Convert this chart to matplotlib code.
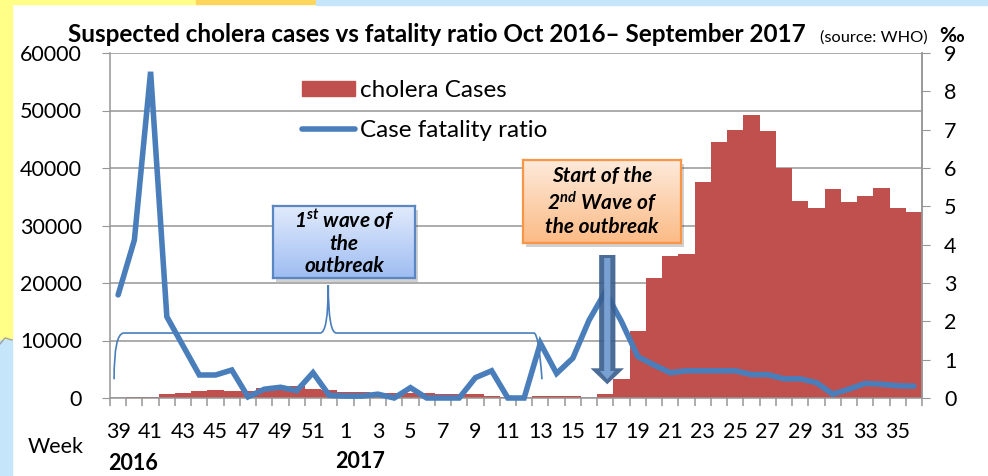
import numpy as np
import matplotlib
matplotlib.use("Agg")
import matplotlib.pyplot as plt
import matplotlib.patches as mpatches
from matplotlib.lines import Line2D
from matplotlib.path import Path
import matplotlib.transforms as mtransforms

# ---------------------------------------------------------------------------
# data
weeks_2016 = list(range(39, 53))
weeks_2017 = list(range(1, 37))
weeks = weeks_2016 + weeks_2017

cases = [50, 100, 200, 750, 930, 1160, 1390, 1160, 1300, 1680,
         1850, 2030, 1620, 1390, 1040, 990, 900, 930, 810, 800,
         700, 700, 700, 350, 100, 50, 350, 350, 350, 50,
         700, 3250, 11650, 20800, 24700, 25000, 37500, 44600, 46600, 49300,
         46400, 40000, 34300, 33000, 36300, 34100, 35200, 36600, 33100, 32300]

cfr = [2.69, 4.12, 8.51, 2.12, 1.36, 0.60, 0.60, 0.73, 0.03, 0.23,
       0.28, 0.19, 0.66, 0.07, 0.05, 0.05, 0.10, 0.00, 0.27, 0.00,
       0.00, 0.00, 0.53, 0.71, 0.00, 0.00, 1.43, 0.64, 1.04, 2.03,
       2.77, 1.99, 1.08, 0.86, 0.66, 0.71, 0.71, 0.71, 0.71, 0.61,
       0.61, 0.50, 0.50, 0.40, 0.10, 0.23, 0.38, 0.36, 0.32, 0.31]

left_ticks = [0, 10000, 20000, 30000, 40000, 50000, 60000]
right_ticks = list(range(0, 10))

bar_color = '#c0504d'
line_color = '#4a7ebb'
grid_color = '#969696'

plt.rcParams['font.family'] = ['Lato', 'DejaVu Sans']
plt.rcParams['mathtext.fontset'] = 'custom'
plt.rcParams['mathtext.rm'] = 'Lato:italic:bold'
plt.rcParams['mathtext.it'] = 'Lato:italic:bold'

W, H = 988, 476
fig = plt.figure(figsize=(W / 100, H / 100), dpi=100)


def px(x, y, w, h):
    """pixel box (top-left origin) -> figure fraction rect"""
    return [x / W, 1 - (y + h) / H, w / W, h / H]


# background frame of the slide --------------------------------------------
bg = fig.add_axes([0, 0, 1, 1], zorder=-10)
bg.set_xlim(0, W)
bg.set_ylim(H, 0)
bg.axis('off')
bg.add_patch(mpatches.Rectangle((0, 0), W, H, color='white'))
bg.add_patch(mpatches.Rectangle((0, 0), 12, 340, color='#ffff88'))
bg.add_patch(mpatches.Rectangle((0, 340), 12, H - 340, color='#c5e6fa'))
bg.plot([0, 5, 12], [344, 338, 340], color='#a0a0a0', lw=1)
bg.add_patch(mpatches.Rectangle((0, 0), 196, 4, color='#ffff88'))
bg.add_patch(mpatches.Rectangle((196, 0), 120, 4, color='#ffd55a'))
bg.add_patch(mpatches.Rectangle((316, 0), W - 316, 5, color='#c5e6fa'))

# main axes ------------------------------------------------------------------
ax = fig.add_axes([110 / W, 1 - 398 / H, 812 / W, 345 / H])
x = np.arange(len(weeks))
ax.bar(x, cases, width=1.0, color=bar_color, zorder=2)
ax.set_xlim(-0.5, len(weeks) - 0.5)
ax.set_ylim(0, 60000)
ax.set_yticks(left_ticks)
ax.set_yticklabels([str(v) for v in left_ticks])
ax.yaxis.grid(True, color=grid_color, lw=1.1, zorder=0)
ax.set_axisbelow(True)
ax.spines['top'].set_visible(False)
for s in ['left', 'right', 'bottom']:
    ax.spines[s].set_color(grid_color)
    ax.spines[s].set_linewidth(1.1)
ax.tick_params(axis='y', length=6, color=grid_color, labelsize=15.5, pad=14)

# week ticks at category boundaries, labels every other week
ax.set_xticks(np.arange(-0.5, len(weeks), 1.0))
ax.set_xticklabels([])
ax.tick_params(axis='x', which='major', length=6, color=grid_color, width=1.1)
ax.set_xticks(x[::2], minor=True)
ax.set_xticklabels([str(w) for w in weeks[::2]], minor=True)
ax.tick_params(axis='x', which='minor', length=0, labelsize=15.5, pad=17)

ax2 = ax.twinx()
ax2.plot(x, cfr, color=line_color, lw=4, solid_joinstyle='miter',
         solid_capstyle='round', clip_on=False, zorder=3)
ax2.set_ylim(0, 9)
ax2.set_yticks(right_ticks)
ax2.tick_params(axis='y', length=6, color=grid_color, labelsize=15.5, pad=10)
for s in ['top', 'left', 'bottom']:
    ax2.spines[s].set_visible(False)
ax2.spines['right'].set_color(grid_color)
ax2.spines['right'].set_linewidth(1.1)

# brace under the 1st wave --------------------------------------------------
x0, x1, xm = -0.25, 26.1, 12.94
y_base, y_line, y_tip = 3250, 11300, 19650
verts = [(x0, y_base), (x0, y_line), (x0 + 0.6, y_line),
         (xm - 0.5, y_line), (xm, y_line), (xm, y_tip),
         (xm, y_line), (xm + 0.5, y_line),
         (x1 - 0.5, y_line), (x1 - 0.2, y_line), (x1, y_base)]
codes = [Path.MOVETO, Path.CURVE3, Path.CURVE3,
         Path.LINETO, Path.CURVE3, Path.CURVE3,
         Path.CURVE3, Path.CURVE3,
         Path.LINETO, Path.CURVE3, Path.CURVE3]
brace = mpatches.PathPatch(Path(verts, codes), facecolor='none',
                           edgecolor=line_color, lw=1.2,
                           transform=ax.transData, zorder=4, clip_on=False)
ax2.add_patch(brace)

# down arrow at week 17 -----------------------------------------------------
ax_x = 30.12
arrow_outer = [(ax_x - 0.5, 24870), (ax_x + 0.5, 24870), (ax_x + 0.5, 5165),
               (ax_x + 1.03, 5165), (ax_x, 2380), (ax_x - 1.03, 5165),
               (ax_x - 0.5, 5165)]
arrow_inner = [(ax_x - 0.19, 24350), (ax_x + 0.19, 24350), (ax_x + 0.19, 4700),
               (ax_x + 0.45, 4700), (ax_x, 3250), (ax_x - 0.45, 4700),
               (ax_x - 0.19, 4700)]
ax2.add_patch(mpatches.Polygon(arrow_outer, closed=True, facecolor='#3a5f8e',
                               edgecolor='none', alpha=0.92,
                               transform=ax.transData, zorder=5))
ax2.add_patch(mpatches.Polygon(arrow_inner, closed=True, facecolor='#7ea5d8',
                               edgecolor='none', alpha=0.92,
                               transform=ax.transData, zorder=6))

# legend --------------------------------------------------------------------
handles = [mpatches.Patch(color=bar_color, label='cholera Cases'),
           Line2D([], [], color=line_color, lw=4, solid_capstyle='round',
                  label='Case fatality ratio')]
fig.legend(handles=handles, loc='upper left', bbox_to_anchor=(302 / W, 1 - 80 / H),
           frameon=False, fontsize=17.5, handlelength=2.2, handleheight=0.6,
           handletextpad=0.2, labelspacing=0.8, borderpad=0, borderaxespad=0)


# gradient call-out boxes ---------------------------------------------------
def callout(rect, top, bottom, edge, text, fontsize):
    sh = fig.add_axes(px(rect[0] + 3, rect[1] + 4, rect[2], rect[3]), zorder=8)
    sh.set_facecolor('#000000')
    sh.patch.set_alpha(0.18)
    sh.set_xticks([])
    sh.set_yticks([])
    for s in sh.spines.values():
        s.set_visible(False)
    b = fig.add_axes(px(*rect), zorder=9)
    t = np.array(matplotlib.colors.to_rgb(top))
    btm = np.array(matplotlib.colors.to_rgb(bottom))
    grad = np.linspace(0, 1, 64)[:, None, None] * (btm - t) + t
    b.imshow(grad, aspect='auto', extent=[0, 1, 0, 1], origin='upper')
    b.set_xlim(0, 1)
    b.set_ylim(0, 1)
    b.set_xticks([])
    b.set_yticks([])
    for s in b.spines.values():
        s.set_color(edge)
        s.set_linewidth(1.6)
    b.text(0.5, 0.5, text, ha='center', va='center', fontsize=fontsize,
           fontweight='bold', fontstyle='italic', linespacing=1.15)


callout((273, 206, 142, 72), '#e2ebfc', '#9fbdf2', '#5a86c4',
        '1$^{st}$ wave of\nthe\noutbreak', 15)
callout((523, 160, 158, 83), '#feeadb', '#fbbb86', '#f79646',
        'Start of the\n2$^{nd}$ Wave of\nthe outbreak', 15)

# titles and axis captions ----------------------------------------------------
fig.text(68 / W, 1 - 42 / H, 'Suspected cholera cases vs fatality ratio Oct 2016\u2013 September 2017',
         fontsize=17.5, fontweight='bold', ha='left', va='baseline')
fig.text(820 / W, 1 - 42 / H, '(source: WHO)', fontsize=11.8, ha='left', va='baseline')
fig.text(939 / W, 1 - 42 / H, '\u2030', fontsize=15, fontweight='bold', ha='left', va='baseline')
fig.text(56 / W, 1 - 447 / H, 'Week', fontsize=15.5, ha='center', va='center')
trans = mtransforms.blended_transform_factory(ax.transData, fig.transFigure)
ax.text(-0.6, 1 - 464 / H, '2016', transform=trans, fontsize=15.5,
        fontweight='bold', ha='left', va='center')
ax.text(13.35, 1 - 461 / H, '2017', transform=trans, fontsize=15.5,
        fontweight='bold', ha='left', va='center')

fig.savefig('out.png', dpi=100)
